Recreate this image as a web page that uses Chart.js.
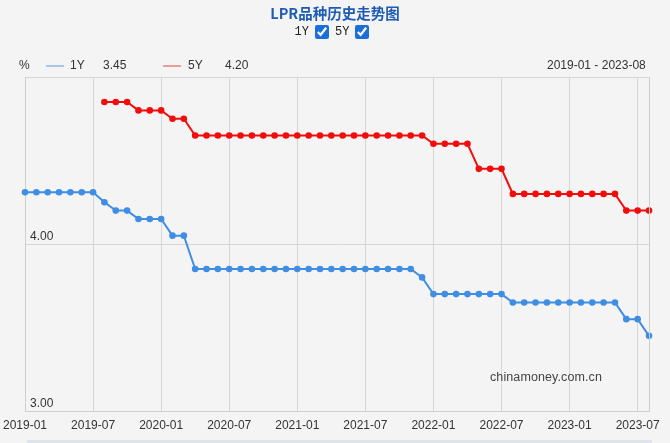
<!DOCTYPE html>
<html>
<head>
<meta charset="utf-8">
<script src="https://cdn.jsdelivr.net/npm/chart.js@4.4.0/dist/chart.umd.min.js"></script>
<style>
body { margin: 0; background: #f4f4f4; font-family: "Liberation Sans", Arial, sans-serif; }
#wrap { position: relative; width: 670px; height: 443px; overflow: hidden; }
#lprChart { position: absolute; left: 0; top: 0; }
.abs { position: absolute; white-space: nowrap; }
#title { top: 3px; left: 0; width: 670px; text-align: center; font: bold 14.5px/20px "Noto Sans CJK SC", sans-serif; color: #1e5bb5; }
#checks { top: 25px; left: 0; width: 670px; display: flex; justify-content: center; align-items: center; font: 12px/14px "Liberation Mono", monospace; color: #222; }
#checks input { width: 14px; height: 14px; margin: 0 6px 0 6px; accent-color: #1a6fd8; }
.leg { top: 58px; font-size: 12px; line-height: 14px; color: #333; }
.legline { position: absolute; top: 65px; height: 2px; width: 18px; }
#mark { left: 490px; top: 370px; font-size: 12.5px; color: #444; letter-spacing: 0.1px; }
#slider { left: 27px; top: 440px; width: 625px; height: 10px; background: #dfe4ea; }
</style>
</head>
<body>
<div id="wrap">
  <canvas id="lprChart" width="670" height="443"></canvas>
  <div id="title" class="abs">LPR品种历史走势图</div>
  <div id="checks" class="abs">1Y<input type="checkbox" checked>5Y<input type="checkbox" checked></div>
  <div class="abs leg" style="left:19px">%</div>
  <div class="legline" style="left:46px;background:#a9c6e8"></div>
  <div class="abs leg" style="left:70px">1Y</div>
  <div class="abs leg" style="left:103px">3.45</div>
  <div class="legline" style="left:163px;background:#eb9c9c"></div>
  <div class="abs leg" style="left:188px">5Y</div>
  <div class="abs leg" style="left:225px">4.20</div>
  <div class="abs leg" style="left:547px">2019-01 - 2023-08</div>
  <div id="mark" class="abs">chinamoney.com.cn</div>
  <div id="slider" class="abs"></div>
</div>
<script>
// months 2019-01 .. 2023-08
var months = [];
for (var y = 2019; y <= 2023; y++) {
	for (var m = 1; m <= 12; m++) {
		if (y == 2023 && m > 8) break;
		months.push(y + '-' + (m < 10 ? '0' + m : m));
	}
}

var lpr1y = [
	4.31, 4.31, 4.31, 4.31, 4.31, 4.31, 4.31, 4.25, 4.20, 4.20, 4.15, 4.15,
	4.15, 4.05, 4.05, 3.85, 3.85, 3.85, 3.85, 3.85, 3.85, 3.85, 3.85, 3.85,
	3.85, 3.85, 3.85, 3.85, 3.85, 3.85, 3.85, 3.85, 3.85, 3.85, 3.85, 3.80,
	3.70, 3.70, 3.70, 3.70, 3.70, 3.70, 3.70, 3.65, 3.65, 3.65, 3.65, 3.65,
	3.65, 3.65, 3.65, 3.65, 3.65, 3.55, 3.55, 3.45
];

var lpr5y = [
	null, null, null, null, null, null, null, 4.85, 4.85, 4.85, 4.80, 4.80,
	4.80, 4.75, 4.75, 4.65, 4.65, 4.65, 4.65, 4.65, 4.65, 4.65, 4.65, 4.65,
	4.65, 4.65, 4.65, 4.65, 4.65, 4.65, 4.65, 4.65, 4.65, 4.65, 4.65, 4.65,
	4.60, 4.60, 4.60, 4.60, 4.45, 4.45, 4.45, 4.30, 4.30, 4.30, 4.30, 4.30,
	4.30, 4.30, 4.30, 4.30, 4.30, 4.20, 4.20, 4.20
];

var yTicks = [3, 4, 5];

function isTickMonth(idx) {
	var mm = months[idx].slice(5);
	return mm == '01' || mm == '07';
}

var frame = {
	id: 'frame',
	afterDraw: function(chart) {
		var a = chart.chartArea, c = chart.ctx;
		c.save();
		c.strokeStyle = '#cfcfcf';
		c.lineWidth = 1;
		c.beginPath();
		c.moveTo(Math.round(a.right) + 0.5, a.top);
		c.lineTo(Math.round(a.right) + 0.5, a.bottom);
		c.stroke();
		c.restore();
	}
};

var ctx = document.getElementById('lprChart');
var lineChart = new Chart(ctx, {
	type : 'line',
	data : {
		labels : months,
		datasets : [ {
			label : '1Y',
			data : lpr1y,
			borderColor : '#3f8ee3',
			backgroundColor : '#3f8ee3',
			borderWidth : 2,
			pointRadius : 3.3,
			pointBorderWidth : 0,
			tension : 0
		}, {
			label : '5Y',
			data : lpr5y,
			borderColor : '#f20d0d',
			backgroundColor : '#f20d0d',
			borderWidth : 2,
			pointRadius : 3.3,
			pointBorderWidth : 0,
			tension : 0,
			spanGaps : false
		} ]
	},
	options : {
		responsive : false,
		animation : false,
		layout : { padding : { left : 25, right : 21, top : 77, bottom : 0 } },
		plugins : { legend : { display : false }, tooltip : { enabled : false } },
		scales : {
			x : {
				offset : false,
				afterFit : function(s) { s.height = 32; s.paddingLeft = 0; s.paddingRight = 0; },
				grid : {
					drawTicks : false,
					color : function(c) { return isTickMonth(c.index) ? '#d6d6d6' : 'rgba(0,0,0,0)'; }
				},
				border : { color : '#cfcfcf' },
				ticks : {
					autoSkip : false,
					maxRotation : 0,
					padding : 7,
					color : '#333',
					font : { family : 'Liberation Sans', size : 12 },
					callback : function(v, i) { return isTickMonth(i) ? months[i] : ''; }
				}
			},
			y : {
				min : 3,
				max : 5,
				afterFit : function(s) { s.width = 0; },
				afterBuildTicks : function(s) { s.ticks = yTicks.map(function(v) { return { value : v }; }); },
				grid : { drawTicks : false, color : '#d6d6d6' },
				border : { color : '#cfcfcf' },
				ticks : {
					mirror : true,
					padding : 5,
					labelOffset : -7,
					color : '#333',
					font : { family : 'Liberation Sans', size : 12 },
					callback : function(v) { return v == 5 ? '' : v.toFixed(2); }
				}
			}
		}
	},
	plugins : [ frame ]
});
</script>
</body>
</html>
